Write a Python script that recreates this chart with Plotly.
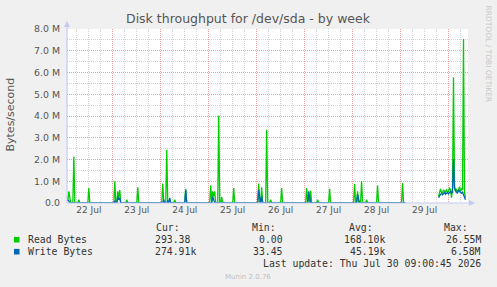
import plotly.graph_objects as go
import pandas as pd
import numpy as np

# ---------------- data ----------------
title = "Disk throughput for /dev/sda - by week"
y_tick_vals_m = [0, 1, 2, 3, 4, 5, 6, 7, 8]
y_tick_text = ["0.0", "1.0 M", "2.0 M", "3.0 M", "4.0 M", "5.0 M", "6.0 M", "7.0 M", "8.0 M"]

series_start = "2026-07-22 00:30"
series_end = "2026-07-30 08:30"

# read bytes (M bytes/s) at notable samples; other samples are ~0
read_peak_times = [
    "2026-07-22 01:00", "2026-07-22 01:30", "2026-07-22 02:00", "2026-07-22 02:30",
    "2026-07-22 04:30", "2026-07-22 07:00", "2026-07-22 12:00",
    "2026-07-23 01:00", "2026-07-23 02:30", "2026-07-23 03:00", "2026-07-23 03:30",
    "2026-07-23 07:00", "2026-07-23 12:30",
    "2026-07-24 01:00", "2026-07-24 03:00", "2026-07-24 07:00", "2026-07-24 12:30",
    "2026-07-25 01:00", "2026-07-25 02:00", "2026-07-25 02:30", "2026-07-25 03:00",
    "2026-07-25 05:00", "2026-07-25 06:30", "2026-07-25 12:30",
    "2026-07-26 01:00", "2026-07-26 02:30", "2026-07-26 05:00", "2026-07-26 07:00",
    "2026-07-26 12:30",
    "2026-07-27 01:00", "2026-07-27 02:00", "2026-07-27 03:00", "2026-07-27 06:30",
    "2026-07-27 12:30",
    "2026-07-28 01:00", "2026-07-28 02:30", "2026-07-28 04:30", "2026-07-28 07:00",
    "2026-07-28 12:30",
    "2026-07-29 01:00",
]
read_peak_vals = [
    0.30, 0.10, 0.54, 0.25,
    2.14, 0.15, 0.69,
    1.00, 0.54, 0.25, 0.60,
    0.15, 0.72,
    0.90, 2.45, 0.15, 0.65,
    0.81, 0.54, 0.30, 0.54,
    4.02, 0.28, 0.69,
    0.89, 0.72, 3.37, 0.15,
    0.69,
    0.69, 0.35, 0.57, 0.15,
    0.65,
    0.88, 0.54, 1.00, 0.15,
    0.80,
    0.92,
]

# write bytes (M bytes/s)
write_peak_times = [
    "2026-07-22 01:00", "2026-07-22 01:30", "2026-07-22 02:00",
    "2026-07-23 01:00", "2026-07-23 02:30", "2026-07-23 03:00", "2026-07-23 03:30",
    "2026-07-24 01:30", "2026-07-24 03:30", "2026-07-24 04:30", "2026-07-24 12:30",
    "2026-07-25 02:00", "2026-07-25 02:30",
    "2026-07-26 01:00", "2026-07-26 01:30", "2026-07-26 02:30",
    "2026-07-27 02:00", "2026-07-27 02:30",
    "2026-07-28 02:30", "2026-07-28 03:00",
]
write_peak_vals = [
    0.20, 0.12, 0.10,
    0.10, 0.30, 0.15, 0.22,
    0.15, 0.12, 0.23, 0.60,
    0.30, 0.15,
    0.60, 0.20, 0.30,
    0.54, 0.25,
    0.39, 0.15,
]

# no data in this interval
gap_start = "2026-07-29 03:00"
gap_end = "2026-07-29 18:30"

# busy period at the end (every 30 min from recent_start)
recent_start = "2026-07-29 19:00"
recent_read_vals = [0.30, 0.55, 0.65, 0.50, 0.45, 0.60, 0.55, 0.50, 0.62, 0.48,
                    0.55, 0.70, 0.60, 0.25, 0.70, 5.78, 0.75, 0.55, 0.65, 0.50,
                    0.60, 0.75, 0.55, 0.65, 0.60, 7.54, 0.50, 0.25]
recent_write_vals = [0.25, 0.35, 0.40, 0.45, 0.38, 0.42, 0.50, 0.40, 0.45, 0.48,
                     0.42, 0.50, 0.55, 0.45, 0.50, 2.02, 0.70, 0.55, 0.50, 0.45,
                     0.60, 0.55, 0.50, 0.45, 0.50, 0.40, 0.30, 0.15]

legend_names = ["Read Bytes", "Write Bytes"]
legend_cur = ["293.38", "274.91k"]
legend_min = ["0.00", "33.45"]
legend_avg = ["168.10k", "45.19k"]
legend_max = ["26.55M", "6.58M"]
last_update = "Last update: Thu Jul 30 09:00:45 2026"
munin_version = "Munin 2.0.76"
watermark = "RRDTOOL / TOBI OETIKER"

colors = ["#00CC00", "#0066B3"]

# ---------------- build series ----------------
idx = pd.date_range(series_start, series_end, freq="30min")


def build(peak_times, peak_vals, recent_vals):
    s = pd.Series(0.0, index=idx)
    for t, v in zip(peak_times, peak_vals):
        s[pd.Timestamp(t)] = v * 1e6
    s[(s.index >= pd.Timestamp(gap_start)) & (s.index <= pd.Timestamp(gap_end))] = np.nan
    r_idx = pd.date_range(recent_start, periods=len(recent_vals), freq="30min")
    for t, v in zip(r_idx, recent_vals):
        s[t] = v * 1e6
    return s


read_s = build(read_peak_times, read_peak_vals, recent_read_vals)
write_s = build(write_peak_times, write_peak_vals, recent_write_vals)

fig = go.Figure()
fig.add_trace(go.Scatter(x=read_s.index, y=read_s.values, mode="lines",
                         line=dict(color=colors[0], width=1.3), connectgaps=False,
                         showlegend=False))
fig.add_trace(go.Scatter(x=write_s.index, y=write_s.values, mode="lines",
                         line=dict(color=colors[1], width=1.3), connectgaps=False,
                         showlegend=False))

W, H = 497, 287
L, R, T, B = 67, 29, 29, 84
PW, PH = W - L - R, H - T - B


def px(x):
    return (x - L) / PW


def py(y):
    return (H - B - y) / PH


axis_col = "#C4CAF2"
shapes = [
    dict(type="line", xref="paper", yref="paper", x0=0, x1=0, y0=0, y1=py(24),
         line=dict(color=axis_col, width=1.2), layer="above"),
    dict(type="line", xref="paper", yref="paper", x0=0, x1=px(471), y0=0, y1=0,
         line=dict(color=axis_col, width=1.2), layer="above"),
    dict(type="path", xref="paper", yref="paper",
         path=f"M {px(64)} {py(27)} L {px(70)} {py(27)} L {px(67)} {py(21)} Z",
         fillcolor=axis_col, line=dict(width=0), layer="above"),
    dict(type="path", xref="paper", yref="paper",
         path=f"M {px(469)} {py(200)} L {px(469)} {py(206)} L {px(475)} {py(203)} Z",
         fillcolor=axis_col, line=dict(width=0), layer="above"),
]
for i, c in enumerate(colors):
    yc = 239.7 + 12 * i
    shapes.append(dict(type="rect", xref="paper", yref="paper",
                       x0=px(14), x1=px(19.5), y0=py(yc + 2.8), y1=py(yc - 2.8),
                       fillcolor=c, line=dict(width=0)))

mono = dict(family="DejaVu Sans Mono", size=9.8, color="#333333")
ann = []


def text(x, y, s, anchor="left", font=mono, **kw):
    ann.append(dict(x=px(x), y=py(y), xref="paper", yref="paper", text=s,
                    showarrow=False, xanchor=anchor, yanchor="middle", font=font, **kw))


text(182, 227.7, "Cur:", "right")
text(278, 227.7, "Min:", "right")
text(374.5, 227.7, "Avg:", "right")
text(470.5, 227.7, "Max:", "right")
for i in range(2):
    yc = 239.7 + 12 * i
    text(25.5, yc, legend_names[i], "left")
    text(152.5, yc, legend_cur[i], "left")
    text(284.5, yc, legend_min[i], "right")
    text(387, yc, legend_avg[i], "right")
    text(483, yc, legend_max[i], "right")
text(483, 263.3, last_update, "right")
text(248, 276.5, munin_version, "center",
     font=dict(family="DejaVu Sans", size=7, color="#C0C0C0"))
text(488, 53.5, watermark, "center",
     font=dict(family="DejaVu Sans", size=7.5, color="#C8C8C8"), textangle=90)
text(10.5, 115, "Bytes/second", "center",
     font=dict(family="DejaVu Sans", size=11, color="#555555"), textangle=-90)
text(248, 18.5, title, "center",
     font=dict(family="DejaVu Sans", size=12.5, color="#555555"))

fig.update_layout(
    width=W, height=H,
    margin=dict(l=L, r=R, t=T, b=B, pad=0),
    paper_bgcolor="#F0F0F0",
    plot_bgcolor="#FFFFFF",
    shapes=shapes,
    annotations=ann,
    showlegend=False,
    xaxis=dict(
        type="date",
        range=["2026-07-22 01:05", "2026-07-30 09:45"],
        tick0="2026-07-22", dtick=86400000,
        ticklabelmode="period", tickformat="%d %b",
        showgrid=True, gridcolor="#EEA0A0", griddash="1px,1px", gridwidth=1,
        minor=dict(dtick=21600000, showgrid=True, gridcolor="#D4D4D4",
                   griddash="1px,1px", gridwidth=1),
        ticks="", showline=False, zeroline=False,
        tickfont=dict(family="DejaVu Sans", size=9, color="#555555"),
        fixedrange=True,
    ),
    yaxis=dict(
        range=[0, 8e6],
        tickvals=[v * 1e6 for v in y_tick_vals_m], ticktext=y_tick_text,
        showgrid=True, gridcolor="#EEA0A0", griddash="1px,1px", gridwidth=1,
        minor=dict(dtick=5e5, showgrid=True, gridcolor="#D4D4D4",
                   griddash="1px,1px", gridwidth=1),
        ticks="", showline=False, zeroline=False,
        tickfont=dict(family="DejaVu Sans", size=9.4, color="#555555"),
        ticklabelstandoff=6,
        fixedrange=True,
    ),
)

fig.write_html("out.html", config=dict(displayModeBar=False))
